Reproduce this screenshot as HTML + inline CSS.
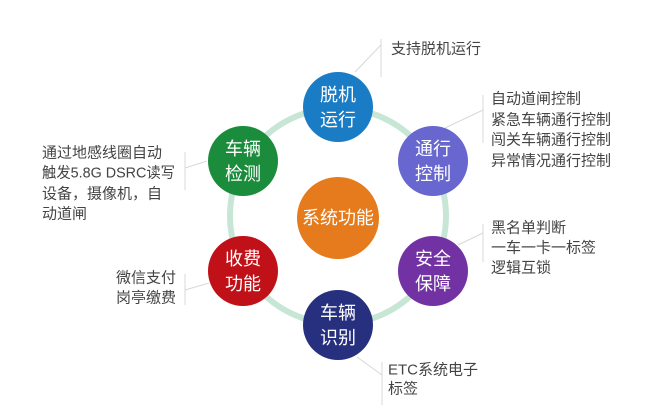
<!DOCTYPE html>
<html><head><meta charset="utf-8"><style>
html,body{margin:0;padding:0;background:#fff;}
svg{display:block;}
text{font-family:"Liberation Sans","Noto Sans CJK SC",sans-serif;}
.w{fill:#fff;font-size:18px;text-anchor:middle;dominant-baseline:central;}
.t{fill:#444;font-size:15px;dominant-baseline:central;}
.l{stroke:#d8d8d8;stroke-width:1;fill:none;}
</style></head><body>
<svg width="656" height="405" viewBox="0 0 656 405">
<circle cx="338" cy="216" r="108" fill="none" stroke="#c8e6d6" stroke-width="6"/>
<path class="l" d="M355 72 L381 45 M381 39 L381 77"/>
<path class="l" d="M445 128 L483 110 M483 95 L483 143"/>
<path class="l" d="M458 245 L483 233 M483 224 L483 262"/>
<path class="l" d="M357 357 L382 375 M382 362 L382 405"/>
<path class="l" d="M185 168 L207 161 M185 152 L185 190"/>
<path class="l" d="M185 290 L209 283 M185 274 L185 305"/>
<circle cx="338" cy="218" r="41" fill="#e57b1c"/>
<text class="w" x="338" y="218">系统功能</text>
<circle cx="338" cy="107" r="35" fill="#1a7cc5"/>
<text class="w" x="338" y="95">脱机</text><text class="w" x="338" y="120">运行</text>
<circle cx="433" cy="161" r="35" fill="#6767cf"/>
<text class="w" x="433" y="149">通行</text><text class="w" x="433" y="174">控制</text>
<circle cx="433" cy="271" r="35" fill="#7232a3"/>
<text class="w" x="433" y="259">安全</text><text class="w" x="433" y="284">保障</text>
<circle cx="338" cy="325" r="35" fill="#27307f"/>
<text class="w" x="338" y="313">车辆</text><text class="w" x="338" y="338">识别</text>
<circle cx="243" cy="271" r="35" fill="#c01018"/>
<text class="w" x="243" y="259">收费</text><text class="w" x="243" y="284">功能</text>
<circle cx="243" cy="161" r="35" fill="#1a8c3b"/>
<text class="w" x="243" y="149">车辆</text><text class="w" x="243" y="174">检测</text>
<text class="t" x="391" y="49">支持脱机运行</text>
<text class="t" x="491" y="99">自动道闸控制</text>
<text class="t" x="491" y="120">紧急车辆通行控制</text>
<text class="t" x="491" y="140">闯关车辆通行控制</text>
<text class="t" x="491" y="161">异常情况通行控制</text>
<text class="t" x="491" y="228">黑名单判断</text>
<text class="t" x="491" y="248">一车一卡一标签</text>
<text class="t" x="491" y="268">逻辑互锁</text>
<text class="t" x="388" y="370">ETC系统电子</text>
<text class="t" x="388" y="389">标签</text>
<text class="t" x="42" y="153">通过地感线圈自动</text>
<text class="t" x="42" y="173" textLength="133" lengthAdjust="spacingAndGlyphs">触发5.8G DSRC读写</text>
<text class="t" x="42" y="194">设备，摄像机，自</text>
<text class="t" x="42" y="214">动道闸</text>
<text class="t" x="176" y="278" text-anchor="end">微信支付</text>
<text class="t" x="176" y="298" text-anchor="end">岗亭缴费</text>
</svg>
</body></html>
